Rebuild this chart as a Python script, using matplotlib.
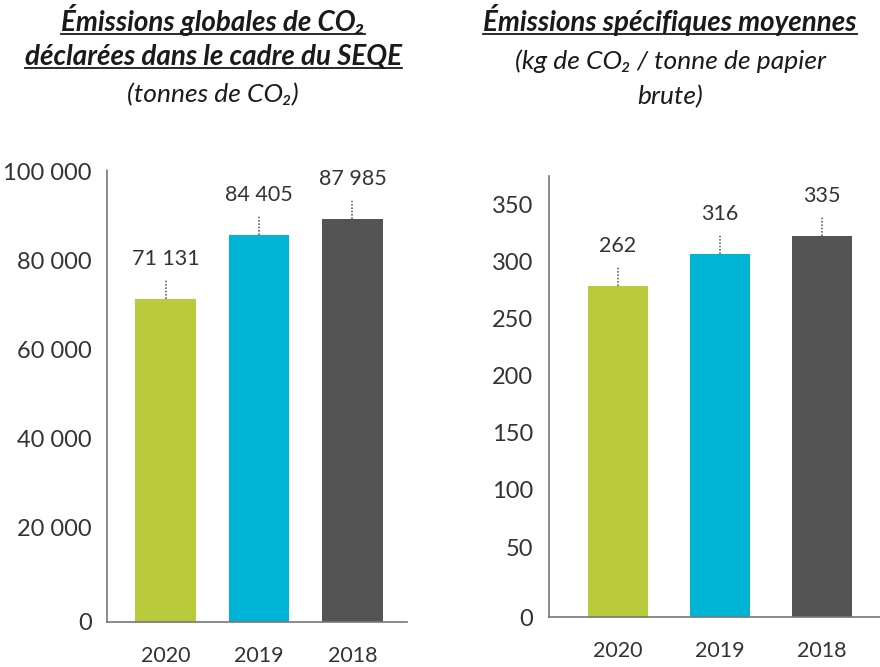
import matplotlib
matplotlib.use("Agg")
import matplotlib.pyplot as plt
from matplotlib.lines import Line2D

plt.rcParams["font.family"] = ["Lato", "DejaVu Sans"]

# data
years = ["2020", "2019", "2018"]
colors = ["#B9CA3B", "#00B4D5", "#545454"]

total_heights = [71400, 85800, 89400]          # bar heights as drawn
total_labels = ["71 131", "84 405", "87 985"]  # printed values
total_ticks = [0, 20000, 40000, 60000, 80000, 100000]

specific_heights = [278, 306, 322]
specific_labels = ["262", "316", "335"]
specific_ticks = [0, 50, 100, 150, 200, 250, 300, 350]

W, H = 880, 667
fig = plt.figure(figsize=(W / 100, H / 100), dpi=100)


def px_axes(x0, x1, ytop, ybot):
    return fig.add_axes([x0 / W, (H - ybot) / H, (x1 - x0) / W, (ybot - ytop) / H])


def style_axes(ax, ticks, ymin, ymax, xlim, ypad):
    ax.set_ylim(ymin, ymax)
    ax.set_xlim(*xlim)
    # the "0" label sits on the baseline, the others on their values
    pos = [ymin if t == 0 else t for t in ticks]
    ax.set_yticks(pos)
    ax.set_yticklabels([f"{t:,}".replace(",", " ") for t in ticks])
    ax.tick_params(axis="y", length=0, pad=ypad, labelsize=17, labelcolor="#333333")
    ax.tick_params(axis="x", length=0, pad=17, labelsize=15.5, labelcolor="#333333")
    for s in ["top", "right"]:
        ax.spines[s].set_visible(False)
    for s in ["left", "bottom"]:
        ax.spines[s].set_linestyle((0, (1, 1)))
        ax.spines[s].set_color("#777777")
        ax.spines[s].set_linewidth(1.2)


def bars(ax, heights, labels, width, ppu):
    x = range(len(heights))
    base = ax.get_ylim()[0]
    ax.bar(x, [h - base for h in heights], bottom=base, width=width,
           color=colors, zorder=2)
    ax.set_xticks(list(x))
    ax.set_xticklabels(years)
    lead = 19 / ppu
    gap = 21 / ppu
    for xi, h, lab in zip(x, heights, labels):
        ax.plot([xi, xi], [h, h + lead], color="#666666", lw=1.2,
                linestyle=(0, (1, 1)), zorder=3, clip_on=False)
        ax.text(xi, h + lead + gap, lab, ha="center", va="center",
                fontsize=15.5, color="#333333")


# left panel: global emissions
ax1 = px_axes(107, 407, 170, 622)
ppu1 = 4.4375 / 1000
style_axes(ax1, total_ticks, -1408, 100450, (-0.626, 2.583), 11)
bars(ax1, total_heights, total_labels, 0.65, ppu1)

# right panel: specific emissions
ax2 = px_axes(549, 880, 176, 617)
ppu2 = 343 / 300
style_axes(ax2, specific_ticks, -11.2, 374.5, (-0.676, 2.57), 11.5)
bars(ax2, specific_heights, specific_labels, 0.59, ppu2)

# titles
bold_kw = dict(ha="center", va="baseline", fontsize=20, color="#1a1a1a",
               fontweight="bold", style="italic")
sub_kw = dict(ha="center", va="baseline", fontsize=19, color="#1a1a1a",
              style="italic")
underlined = [
    fig.text(213 / W, 1 - 31 / H, "Émissions globales de CO₂", **bold_kw),
    fig.text(213 / W, 1 - 65 / H, "déclarées dans le cadre du SEQE", **bold_kw),
    fig.text(670 / W, 1 - 31 / H, "Émissions spécifiques moyennes", **bold_kw),
]
fig.text(213 / W, 1 - 102 / H, "(tonnes de CO₂)", **sub_kw)
fig.text(670 / W, 1 - 69 / H, "(kg de CO₂ / tonne de papier", **sub_kw)
fig.text(670 / W, 1 - 104 / H, "brute)", **sub_kw)

renderer = fig.canvas.get_renderer()
for t in underlined:
    bb = t.get_window_extent(renderer)
    yb = (1 - t.get_position()[1]) * H + 3
    fig.add_artist(Line2D([bb.x0 / W, bb.x1 / W], [1 - yb / H, 1 - yb / H],
                          color="#1a1a1a", lw=1.3))

fig.savefig("out.png", dpi=100)
